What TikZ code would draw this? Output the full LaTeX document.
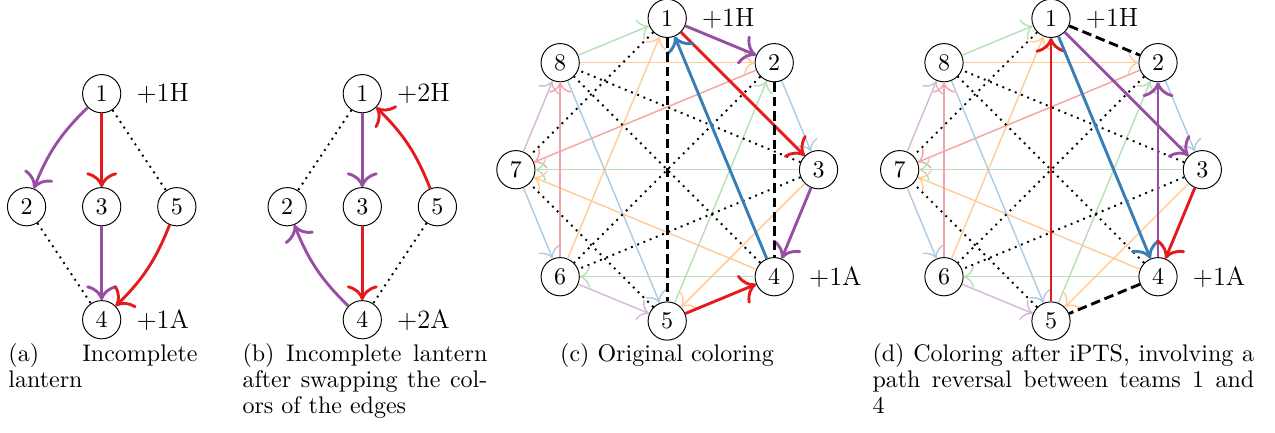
\documentclass[tikz,border=0pt]{standalone}
\usetikzlibrary{positioning,arrows.meta}

\definecolor{setred}{HTML}{E41A1C}
\definecolor{setblue}{HTML}{377EB8}
\definecolor{setgreen}{HTML}{4DAF4A}
\definecolor{setpurple}{HTML}{984EA3}
\definecolor{setorange}{HTML}{FF7F00}

\tikzset{
  team/.style={circle, draw, minimum size=0.56cm, inner sep=0pt},
  score/.style={font=\fontsize{11}{13}\selectfont},
  heavy/.style={-{To[scale=1.45]}, very thick},
  faint/.style={-{To[scale=1.5]}, semithick},
  bye/.style={thick, dotted},
  swap/.style={very thick, dash pattern=on 4pt off 2pt},
  capt/.style={anchor=north west, inner sep=0pt, text width=#1, align=justify,
    font=\linespread{0.9}\selectfont},
}

\begin{document}
\begin{tikzpicture}
    \useasboundingbox (0,0) rectangle (18.67,6.326);

    % (a) lantern before the swap
    \begin{scope}[shift={(1.489,3.299)}]
      \node[team] (a1) at (0,1.655) {1};
      \node[team] (a2) at (-1.1,0) {2};
      \node[team] (a3) at (0,0) {3};
      \node[team] (a5) at (1.1,0) {5};
      \node[team] (a4) at (0,-1.655) {4};
      \node[score, right=1mm of a1] (a1h) {+1H};
      \node[score, right=1mm of a4] (a4a) {+1A};

      \draw[heavy, setpurple] (a1) to[bend right=12] (a2);
      \draw[heavy, setred] (a1) -- (a3);
      \draw[heavy, setpurple] (a3) -- (a4);
      \draw[heavy, setred] (a5) to[bend left=12] (a4);
      \draw[bye] (a1) -- (a5);
      \draw[bye] (a2) -- (a4);
    \end{scope}

    % (b) lantern after the swap
    \begin{scope}[shift={(5.305,3.299)}]
      \node[team] (b1) at (0,1.655) {1};
      \node[team] (b2) at (-1.1,0) {2};
      \node[team] (b3) at (0,0) {3};
      \node[team] (b5) at (1.1,0) {5};
      \node[team] (b4) at (0,-1.655) {4};
      \node[score, right=1mm of b1] (b1h) {+2H};
      \node[score, right=1mm of b4] (b4a) {+2A};

      \draw[heavy, setpurple] (b1) -- (b3);
      \draw[heavy, setred] (b3) -- (b4);
      \draw[heavy, setred] (b5) to[bend right=12] (b1);
      \draw[heavy, setpurple] (b4) to[bend left=12] (b2);
      \draw[bye] (b1) -- (b2);
      \draw[bye] (b5) -- (b4);
    \end{scope}

    % (c) and (d) share the octagon of teams
    \begin{scope}[shift={(9.770,3.841)}]
      \foreach \i in {1,...,8}
        \node[team] (c\i) at ({135-45*\i}:2.216) {\i};
    \end{scope}
    \begin{scope}[shift={(15.390,3.841)}]
      \foreach \i in {1,...,8}
        \node[team] (d\i) at ({135-45*\i}:2.216) {\i};
    \end{scope}

    \foreach \p in {c,d} {
      \foreach \s/\t/\col in {8/1/setgreen, 6/1/setorange, 8/2/setorange,
          2/7/setred, 5/2/setgreen, 2/3/setblue, 3/7/setgreen, 3/5/setorange,
          4/7/setorange, 4/6/setgreen, 6/5/setpurple, 7/6/setblue,
          7/8/setpurple, 6/8/setred, 8/5/setblue}
        \draw[faint, draw=\col!40] (\p\s) -- (\p\t);
      \foreach \s/\t in {1/7, 5/7, 3/8, 4/8, 2/6, 3/6}
        \draw[bye] (\p\s) -- (\p\t);
      \node[score, right=1mm of \p1] (\p1h) {+1H};
      \node[score, right=1mm of \p4] (\p4a) {+1A};
    }

    % original coloring
    \draw[heavy, setpurple] (c1) -- (c2);
    \draw[heavy, setred] (c1) -- (c3);
    \draw[heavy, setblue] (c4) -- (c1);
    \draw[heavy, setpurple] (c3) -- (c4);
    \draw[heavy, setred] (c5) -- (c4);
    \draw[swap] (c1) -- (c5);
    \draw[swap] (c2) -- (c4);

    % after the path reversal
    \draw[heavy, setred] (d5) -- (d1);
    \draw[heavy, setblue] (d1) -- (d4);
    \draw[heavy, setpurple] (d1) -- (d3);
    \draw[heavy, setpurple] (d4) -- (d2);
    \draw[heavy, setred] (d3) -- (d4);
    \draw[swap] (d1) -- (d2);
    \draw[swap] (d4) -- (d5);

    % captions
    \node[capt=2.77cm] (capa) at (0.117,1.303) {(a) Incomplete lantern};
    \node[capt=3.585cm] (capb) at (3.544,1.303)
      {(b) Incomplete lantern after swapping the colors of the edges};
    \node[anchor=north, inner sep=0pt] (capc) at (9.767,1.303) {(c) Original coloring};
    \node[capt=5.59cm] (capd) at (12.769,1.303)
      {(d) Coloring after iPTS, involving a path reversal between teams 1 and\linebreak 4};
\end{tikzpicture}
\end{document}
